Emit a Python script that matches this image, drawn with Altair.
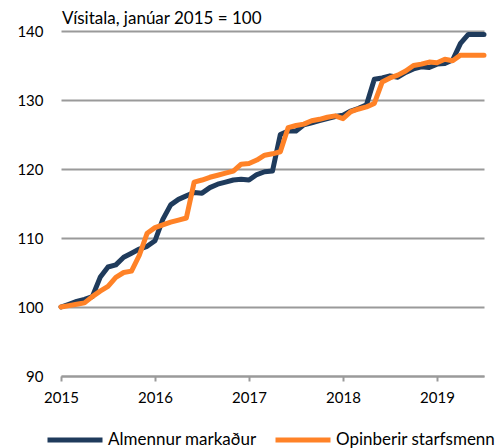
import altair as alt
import pandas as pd

# Monthly index, Jan 2015 (0) .. Jul 2019 (54)
months = list(range(55))

almennur = [100.0, 100.4, 100.8, 101.1, 101.5, 104.3, 105.8, 106.1, 107.2, 107.8,
            108.4, 108.8, 109.6, 112.7, 114.8, 115.6, 116.1, 116.6, 116.5, 117.3,
            117.8, 118.1, 118.4, 118.5, 118.4, 119.2, 119.6, 119.7, 125.0, 125.5,
            125.5, 126.4, 126.7, 127.0, 127.3, 127.6, 127.8, 128.4, 128.8, 129.3,
            133.0, 133.2, 133.5, 133.3, 134.0, 134.5, 134.8, 134.7, 135.2, 135.3,
            135.8, 138.2, 139.5, 139.5, 139.5]

opinberir = [100.0, 100.2, 100.4, 100.6, 101.5, 102.3, 103.0, 104.3, 105.0, 105.2,
             107.5, 110.7, 111.5, 111.9, 112.3, 112.6, 112.9, 118.1, 118.4, 118.8,
             119.1, 119.4, 119.7, 120.7, 120.8, 121.3, 122.0, 122.2, 122.5, 126.0,
             126.3, 126.5, 127.0, 127.2, 127.5, 127.7, 127.3, 128.3, 128.7, 129.0,
             129.5, 132.6, 133.2, 133.6, 134.2, 135.0, 135.2, 135.5, 135.4, 135.9,
             135.7, 136.5, 136.5, 136.5, 136.5]

series_names = ["Almennur markaður", "Opinberir starfsmenn"]
series_colors = ["#1f3b5c", "#ff8227"]
year_ticks = [0, 12, 24, 36, 48]
y_ticks = [90, 100, 110, 120, 130, 140]
title_text = "Vísitala, janúar 2015 = 100"

rows = []
for name, vals in zip(series_names, [almennur, opinberir]):
    for m, v in zip(months, vals):
        rows.append({"m": m, "v": v, "s": name})
df = pd.DataFrame(rows)

FONT = "Lato"

chart = alt.Chart(df).mark_line(strokeWidth=5, strokeJoin="round", strokeCap="round").encode(
    x=alt.X("m:Q",
            scale=alt.Scale(domain=[0, 54], nice=False, zero=False),
            axis=alt.Axis(values=year_ticks, labelExpr="2015 + datum.value / 12",
                          title=None, grid=False, domain=True, domainColor="#9a9a9a",
                          domainWidth=2, ticks=True, tickColor="#9a9a9a", tickWidth=2,
                          tickSize=5, labelPadding=9, labelFontSize=15, labelFont=FONT,
                          labelColor="#000000", labelFlush=False)),
    y=alt.Y("v:Q",
            scale=alt.Scale(domain=[90, 140], nice=False, zero=False),
            axis=alt.Axis(values=y_ticks, title=None, grid=True, gridColor="#9a9a9a",
                          gridWidth=2, domain=False, ticks=False, labelPadding=18,
                          labelFontSize=15, labelFont=FONT, labelColor="#000000")),
    color=alt.Color("s:N",
                    scale=alt.Scale(domain=series_names, range=series_colors),
                    legend=alt.Legend(title=None, orient="none", legendX=-16, legendY=379,
                                      direction="horizontal", symbolType="stroke",
                                      symbolSize=3025, symbolStrokeWidth=5,
                                      labelFontSize=17, labelFont=FONT, labelColor="#000000",
                                      labelOffset=3, columnPadding=8, padding=0)),
).properties(
    width=423,
    height=345,
    title=alt.TitleParams(text=title_text, anchor="start", frame="group", fontSize=17,
                          font=FONT, fontWeight="normal", color="#000000", offset=-4,
                          dx=1),
    autosize=alt.AutoSizeParams(type="none"),
    padding={"left": 53, "top": 23, "right": 11, "bottom": 72},
).configure_view(stroke=None)

chart.save("out.html", embed_options={"renderer": "svg", "actions": False})
